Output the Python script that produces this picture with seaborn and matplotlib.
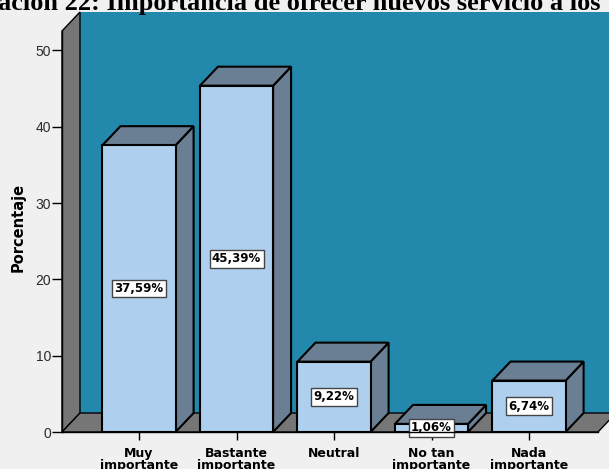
import matplotlib
matplotlib.use("Agg")
import matplotlib.pyplot as plt
import seaborn as sns
from matplotlib.patches import Polygon, Rectangle

categorias = ["Muy\nimportante", "Bastante\nimportante", "Neutral",
              "No tan\nimportante", "Nada\nimportante"]
porcentajes = [37.59, 45.39, 9.22, 1.06, 6.74]
ticks_y = [0, 10, 20, 30, 40, 50]
titulo = "ación 22: Importancia de ofrecer nuevos servicio a los"

fondo = "#F0F0F0"
pared = "#2389AC"
gris = "#767676"
frente = "#AED0EE"
lado = "#6A7F93"

W, H = 609, 469
ancho_px = 536
fig = plt.figure(figsize=(W / 100, H / 100), dpi=100, facecolor=fondo)
ax = fig.add_axes([62 / W, 37 / H, ancho_px / W, 401 / H])
ax.set_facecolor("none")

sns.barplot(x=categorias, y=porcentajes, color=frente, saturation=1, width=0.75,
            edgecolor="black", linewidth=1.5, ax=ax, zorder=3)

x0, x1 = -0.79, -0.79 + ancho_px / 97.5
y1 = 401 / 7.63
ax.set_xlim(x0, x1)
ax.set_ylim(0, y1)

# profundidad 3D (unidades de datos)
dx = 18 / 97.5
dy = 19 / 7.63

# caras superior y lateral de cada barra
barras = [p for p in ax.patches if isinstance(p, Rectangle)]
for p in barras:
    bx, bw, bh = p.get_x(), p.get_width(), p.get_height()
    ax.add_patch(Polygon([(bx + bw, 0), (bx + bw + dx, dy), (bx + bw + dx, bh + dy), (bx + bw, bh)],
                         closed=True, facecolor=lado, edgecolor="black", lw=1.5,
                         clip_on=False, zorder=2))
    ax.add_patch(Polygon([(bx, bh), (bx + bw, bh), (bx + bw + dx, bh + dy), (bx + dx, bh + dy)],
                         closed=True, facecolor=lado, edgecolor="black", lw=1.5,
                         clip_on=False, zorder=2))

# paredes y suelo
ax.add_patch(Polygon([(x0 + dx, dy), (x1 + dx + 0.3, dy), (x1 + dx + 0.3, y1 + dy),
                      (x0 + dx, y1 + dy)], closed=True, facecolor=pared,
                     edgecolor="none", clip_on=False, zorder=0))
ax.add_patch(Polygon([(x0, 0), (x0 + dx, dy), (x0 + dx, y1 + dy), (x0, y1)],
                     closed=True, facecolor=gris, edgecolor="black", lw=1,
                     clip_on=False, zorder=1))
ax.add_patch(Polygon([(x0, 0), (x1, 0), (x1 + dx, dy), (x0 + dx, dy)],
                     closed=True, facecolor=gris, edgecolor="black", lw=1,
                     clip_on=False, zorder=1))

for i, v in enumerate(porcentajes):
    ax.text(i, v / 2, f"{v:.2f}".replace(".", ",") + "%", ha="center", va="center",
            fontsize=8.5, fontweight="bold", family="DejaVu Sans", zorder=5,
            bbox=dict(boxstyle="square,pad=0.2", facecolor="white", edgecolor="#444444", lw=1))

for s in ["top", "right"]:
    ax.spines[s].set_visible(False)
ax.spines["left"].set_linewidth(1)
ax.spines["bottom"].set_linewidth(1)
ax.spines["left"].set_zorder(6)
ax.spines["bottom"].set_zorder(6)

ax.set_yticks(ticks_y)
ax.tick_params(axis="y", length=7, width=1, pad=1, labelsize=10, labelcolor="#2a2a2a")
ax.tick_params(axis="x", length=6, width=1, pad=5, labelsize=9)
for t in ax.get_yticklabels():
    t.set_family("Liberation Sans")
for t in ax.get_xticklabels():
    t.set_family("DejaVu Sans")
    t.set_fontweight("bold")
    t.set_linespacing(0.9)
ax.set_xlabel("")
ax.set_ylabel("")

fig.text(18 / W, 1 - 227 / H, "Porcentaje", rotation=90, ha="center", va="center",
         fontsize=10.5, fontweight="bold", family="DejaVu Sans")
fig.text(-2 / W, 1 - 10 / H, titulo, ha="left", va="baseline", fontsize=19,
         fontweight="bold", family="Liberation Serif")

fig.savefig("out.png", dpi=100, facecolor=fondo)
